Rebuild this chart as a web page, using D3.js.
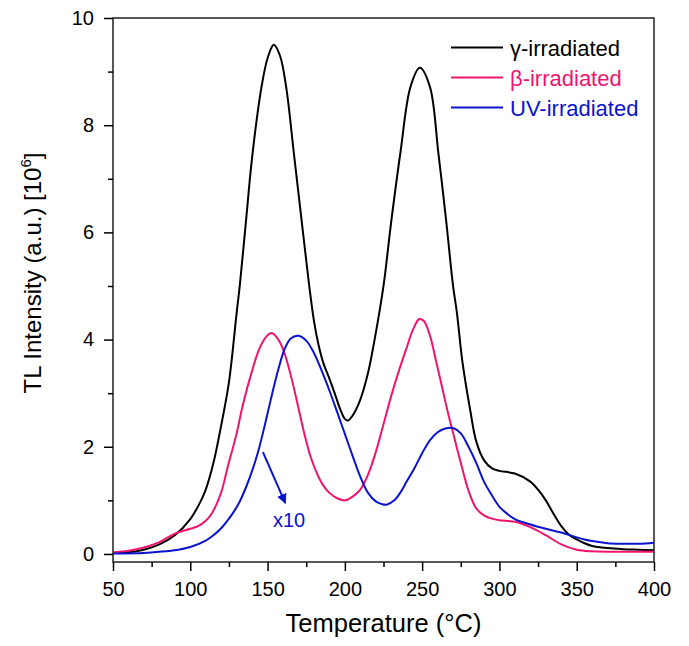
<!DOCTYPE html>
<html>
<head>
<meta charset="utf-8">
<script src="https://cdn.jsdelivr.net/npm/d3@7"></script>
<style>
  body { margin: 0; background: #fff; }
  text { font-family: "Liberation Sans", Arial, sans-serif; }
</style>
</head>
<body>
<div id="graph"></div>
<script>
// temperatures (°C) and intensities (10^6 a.u.)
var gammaT = [50, 60, 70, 80, 90, 100, 107, 110, 115, 120, 125, 130, 132, 136, 140, 146, 150, 154, 158, 162, 167, 172, 177, 180, 183, 186, 190, 194, 197, 200, 202, 205, 210, 215, 220, 225, 230, 236, 242.5, 248.5, 255, 260.5, 265.5, 270, 272.5, 276, 281, 285, 290, 295, 300, 310, 320, 325, 330, 335, 340, 345, 350, 355, 360, 370, 380, 390, 400];
var gammaI = [0.02, 0.03, 0.08, 0.18, 0.35, 0.65, 1.0, 1.2, 1.7, 2.4, 3.2, 4.5, 5.0, 6.2, 7.4, 8.7, 9.25, 9.5, 9.3, 8.72, 7.48, 6.23, 4.99, 4.35, 3.9, 3.57, 3.27, 2.95, 2.7, 2.52, 2.49, 2.58, 2.88, 3.38, 4.12, 5.0, 6.2, 7.5, 8.72, 9.07, 8.72, 7.48, 6.23, 5.0, 4.5, 3.6, 2.7, 2.1, 1.75, 1.6, 1.55, 1.5, 1.35, 1.2, 1.0, 0.75, 0.52, 0.36, 0.27, 0.2, 0.15, 0.11, 0.09, 0.08, 0.07];

var betaT = [50, 60, 70, 80, 90, 100, 105, 110, 114, 120, 124, 130, 134, 140, 145, 150, 153, 157, 160, 163, 166, 170, 174, 178, 182, 186, 190, 195, 200, 205, 210, 215, 220, 225, 230, 235, 240, 244, 248, 251, 255, 259, 263, 266, 270, 275, 280, 285, 290, 295, 300, 310, 320, 330, 340, 350, 360, 380, 400];
var betaI = [0.03, 0.06, 0.12, 0.22, 0.38, 0.47, 0.52, 0.62, 0.76, 1.15, 1.6, 2.25, 2.78, 3.42, 3.85, 4.08, 4.12, 4.0, 3.82, 3.55, 3.22, 2.72, 2.22, 1.8, 1.5, 1.28, 1.14, 1.04, 1.0, 1.07, 1.2, 1.48, 1.9, 2.42, 2.95, 3.42, 3.85, 4.18, 4.38, 4.35, 4.08, 3.6, 3.1, 2.72, 2.26, 1.7, 1.18, 0.85, 0.72, 0.66, 0.63, 0.6, 0.5, 0.35, 0.18, 0.08, 0.05, 0.04, 0.04];

var uvT = [50, 70, 80, 90, 100, 110, 115, 120, 124, 128, 132, 136, 140, 144, 148, 152, 157, 161, 165, 170, 175, 180, 185, 190, 195, 200, 205, 210, 215, 220, 224, 227, 232, 236, 240, 245, 250, 255, 260, 265, 270, 275, 280, 285, 290, 295, 300, 305, 310, 320, 330, 340, 350, 355, 360, 370, 380, 390, 400];
var uvI = [0.01, 0.02, 0.04, 0.07, 0.13, 0.25, 0.35, 0.48, 0.62, 0.78, 0.98, 1.24, 1.55, 1.92, 2.38, 2.87, 3.45, 3.82, 4.02, 4.07, 3.98, 3.75, 3.42, 3.05, 2.65, 2.24, 1.83, 1.44, 1.14, 0.98, 0.93, 0.92, 1.0, 1.15, 1.35, 1.6, 1.88, 2.12, 2.27, 2.34, 2.35, 2.25, 2.0, 1.7, 1.35, 1.1, 0.88, 0.75, 0.65, 0.55, 0.47, 0.4, 0.31, 0.27, 0.24, 0.2, 0.19, 0.19, 0.21];

var seriesNames = ["\u03b3-irradiated", "\u03b2-irradiated", "UV-irradiated"];
var seriesColors = ["#000000", "#f0146e", "#0a14cc"];
var xTicks = [50, 100, 150, 200, 250, 300, 350, 400];
var yTicks = [0, 2, 4, 6, 8, 10];

var width = 689, height = 646;
var margin = {left: 113, right: 35, top: 18, bottom: 84};

var svg = d3.select("#graph").append("svg")
    .attr("width", width)
    .attr("height", height);

var x = d3.scaleLinear().domain([50, 400]).range([margin.left, width - margin.right]);
var y = d3.scaleLinear().domain([-0.15, 10]).range([height - margin.bottom, margin.top]);

var defs = svg.append("defs");
defs.append("marker")
    .attr("id", "arrow")
    .attr("viewBox", "0 0 10 10")
    .attr("refX", 9).attr("refY", 5)
    .attr("markerWidth", 5).attr("markerHeight", 5)
    .attr("orient", "auto")
    .append("path")
    .attr("d", "M0,0 L10,5 L0,10 z")
    .style("fill", seriesColors[2]);

// frame
svg.append("rect")
    .attr("x", x(50)).attr("y", y(10))
    .attr("width", x(400) - x(50))
    .attr("height", y(-0.15) - y(10))
    .style("fill", "none")
    .style("stroke", "#222")
    .style("stroke-width", 1.5);

// x axis, major + minor ticks
var xAxis = svg.append("g")
    .attr("transform", "translate(0," + y(-0.15) + ")");
xAxis.append("g")
    .call(d3.axisBottom(x).tickValues(d3.range(75, 400, 50)).tickSize(5).tickFormat(""));
xAxis.append("g")
    .call(d3.axisBottom(x).tickValues(xTicks).tickSize(9).tickPadding(11))
    .selectAll("text").style("font-size", "20px");
xAxis.selectAll("path").remove();
xAxis.selectAll("line").style("stroke-width", 1.5);
xAxis.selectAll("text").style("fill", "#000");

// y axis
var yAxis = svg.append("g")
    .attr("transform", "translate(" + x(50) + ",0)");
yAxis.append("g")
    .call(d3.axisLeft(y).tickValues([1, 3, 5, 7, 9]).tickSize(5).tickFormat(""));
yAxis.append("g")
    .call(d3.axisLeft(y).tickValues(yTicks).tickSize(9).tickPadding(10))
    .selectAll("text").style("font-size", "20px");
yAxis.selectAll("path").remove();
yAxis.selectAll("line").style("stroke-width", 1.5);
yAxis.selectAll("text").style("fill", "#000");

// curves
var line = d3.line()
    .x(function(d) { return x(d[0]); })
    .y(function(d) { return y(d[1]); })
    .curve(d3.curveCatmullRom.alpha(0.5));

var series = [d3.zip(gammaT, gammaI), d3.zip(betaT, betaI), d3.zip(uvT, uvI)];
series.forEach(function(s, i) {
    svg.append("path")
        .datum(s)
        .attr("d", line)
        .style("fill", "none")
        .style("stroke", seriesColors[i])
        .style("stroke-width", 2);
});

// legend
var legend = svg.append("g");
seriesNames.forEach(function(name, i) {
    var ly = 47.5 + i * 30;
    legend.append("line")
        .attr("x1", 451).attr("x2", 503)
        .attr("y1", ly).attr("y2", ly)
        .style("stroke", seriesColors[i])
        .style("stroke-width", 2);
    legend.append("text")
        .attr("x", 510).attr("y", ly + 8)
        .style("font-size", "22px")
        .style("fill", seriesColors[i])
        .text(name);
});

// x10 annotation
svg.append("line")
    .attr("x1", x(147)).attr("y1", y(1.9))
    .attr("x2", x(161.5)).attr("y2", y(0.95))
    .style("stroke", seriesColors[2])
    .style("stroke-width", 2)
    .attr("marker-end", "url(#arrow)");
svg.append("text")
    .attr("x", 289).attr("y", 527)
    .attr("text-anchor", "middle")
    .style("font-size", "20px")
    .style("fill", seriesColors[2])
    .text("x10");

// axis titles
svg.append("text")
    .attr("x", (x(50) + x(400)) / 2)
    .attr("y", 632)
    .attr("text-anchor", "middle")
    .style("font-size", "25.5px")
    .text("Temperature (\u00b0C)");

var yTitle = svg.append("text")
    .attr("transform", "translate(41,273) rotate(-90)")
    .attr("text-anchor", "middle")
    .style("font-size", "24px");
yTitle.append("tspan").text("TL Intensity (a.u.) [10");
yTitle.append("tspan").attr("dy", -10).style("font-size", "15px").text("6");
yTitle.append("tspan").attr("dy", 10).text("]");
</script>
</body>
</html>
